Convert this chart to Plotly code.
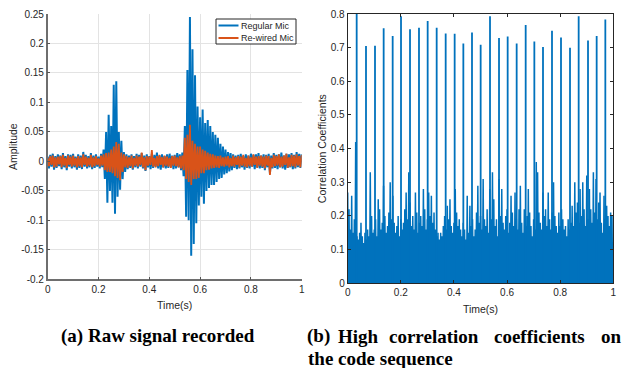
import plotly.graph_objects as go

# ---------------- data ----------------
# (a) raw signal, sampled every 0.005 s from 0 to 1 s
sample_step = 0.005
series_names = ["Regular Mic", "Re-wired Mic"]
regular_mic = [
    0.008, -0.012, 0.011, -0.009, 0.013, -0.014, 0.009, -0.011, 0.012, -0.008,
    0.010, -0.013, 0.014, -0.010, 0.009, -0.015, 0.012, -0.009, 0.011, -0.012,
    0.013, -0.010, 0.008, -0.014, 0.012, -0.011, 0.010, -0.013, 0.016, -0.009,
    0.011, -0.012, 0.009, -0.010, 0.014, -0.013, 0.010, -0.011, 0.012, -0.009,
    0.008, -0.012, 0.013, -0.010, 0.020, -0.030, 0.050, -0.070, 0.079, -0.050,
    0.060, -0.070, 0.130, -0.089, 0.136, -0.060, 0.050, -0.048, 0.035, -0.030,
    0.016, -0.018, 0.012, -0.013, 0.010, -0.011, 0.012, -0.014, 0.009, -0.010,
    0.013, -0.012, 0.011, -0.009, 0.014, -0.012, 0.010, -0.016, 0.012, -0.010,
    0.009, -0.013, 0.013, -0.011, 0.011, -0.009, 0.015, -0.012, 0.010, -0.014,
    0.012, -0.010, 0.009, -0.012, 0.012, -0.011, 0.013, -0.009, 0.010, -0.013,
    0.011, -0.012, 0.014, -0.010, 0.012, -0.015, 0.015, -0.025, 0.060, -0.094,
    0.155, -0.100, 0.245, -0.160, 0.190, -0.140, 0.146, -0.105, 0.093, -0.075,
    0.075, -0.060, 0.088, -0.072, 0.065, -0.050, 0.070, -0.045, 0.060, -0.040,
    0.050, -0.040, 0.045, -0.035, 0.040, -0.030, 0.030, -0.028, 0.025, -0.022,
    0.020, -0.020, 0.016, -0.017, 0.014, -0.015, 0.012, -0.011, 0.010, -0.013,
    0.011, -0.012, 0.013, -0.010, 0.009, -0.014, 0.012, -0.011, 0.010, -0.012,
    0.013, -0.009, 0.011, -0.013, 0.012, -0.010, 0.014, -0.012, 0.010, -0.011,
    0.012, -0.015, 0.011, -0.010, 0.013, -0.021, 0.010, -0.012, 0.014, -0.011,
    0.011, -0.013, 0.012, -0.010, 0.015, -0.012, 0.010, -0.014, 0.013, -0.011,
    0.012, -0.010, 0.014, -0.013, 0.011, -0.012, 0.016, -0.010, 0.013, -0.011,
    0.012,
]
rewired_mic = [
    0.006, -0.008, 0.009, -0.006, 0.010, -0.010, 0.007, -0.009, 0.008, -0.005,
    0.009, -0.010, 0.011, -0.007, 0.006, -0.011, 0.010, -0.006, 0.008, -0.009,
    0.010, -0.007, 0.006, -0.010, 0.009, -0.008, 0.007, -0.010, 0.012, -0.006,
    0.008, -0.009, 0.006, -0.007, 0.011, -0.010, 0.007, -0.008, 0.009, -0.006,
    0.005, -0.009, 0.010, -0.007, 0.012, -0.015, 0.014, -0.018, 0.015, -0.018,
    0.020, -0.020, 0.025, -0.025, 0.033, -0.028, 0.030, -0.032, 0.015, -0.018,
    0.012, -0.010, 0.009, -0.011, 0.007, -0.008, 0.010, -0.012, 0.006, -0.007,
    0.010, -0.009, 0.008, -0.006, 0.015, -0.010, 0.007, -0.015, 0.009, -0.007,
    0.008, -0.006, 0.019, -0.009, 0.006, -0.010, 0.009, -0.008, 0.011, -0.006,
    0.007, -0.010, 0.010, -0.007, 0.008, -0.009, 0.006, -0.011, 0.009, -0.007,
    0.010, -0.008, 0.007, -0.010, 0.009, -0.012, 0.010, -0.015, 0.040, -0.030,
    0.045, -0.035, 0.062, -0.040, 0.035, -0.030, 0.030, -0.030, 0.025, -0.028,
    0.025, -0.020, 0.020, -0.020, 0.018, -0.015, 0.015, -0.014, 0.013, -0.012,
    0.012, -0.011, 0.010, -0.010, 0.009, -0.011, 0.010, -0.008, 0.007, -0.009,
    0.008, -0.007, 0.009, -0.010, 0.006, -0.008, 0.010, -0.009, 0.007, -0.006,
    0.009, -0.010, 0.008, -0.007, 0.011, -0.009, 0.006, -0.010, 0.010, -0.008,
    0.007, -0.009, 0.012, -0.006, 0.008, -0.011, 0.009, -0.007, 0.010, -0.009,
    0.008, -0.012, 0.010, -0.007, 0.009, -0.023, 0.006, -0.010, 0.011, -0.008,
    0.009, -0.007, 0.012, -0.010, 0.008, -0.009, 0.010, -0.006, 0.013, -0.011,
    0.007, -0.009, 0.011, -0.008, 0.010, -0.010, 0.012, -0.007, 0.009, -0.010,
    0.011,
]

# (b) correlation coefficients: background spikes every 0.005 s ...
corr_noise = [
    0.27, 0.22, 0.16, 0.26, 0.15, 0.19, 0.42, 0.14, 0.13, 0.15,
    0.18, 0.14, 0.12, 0.15, 0.13, 0.16, 0.14, 0.33, 0.20, 0.15,
    0.16, 0.19, 0.14, 0.25, 0.22, 0.16, 0.18, 0.29, 0.20, 0.15,
    0.17, 0.21, 0.30, 0.19, 0.26, 0.18, 0.15, 0.17, 0.20, 0.14,
    0.19, 0.16, 0.18, 0.22, 0.27, 0.19, 0.33, 0.24, 0.17, 0.20,
    0.16, 0.27, 0.21, 0.15, 0.18, 0.20, 0.17, 0.28, 0.22, 0.16,
    0.19, 0.27, 0.20, 0.26, 0.18, 0.21, 0.16, 0.14, 0.15, 0.13,
    0.15, 0.14, 0.17, 0.20, 0.16, 0.23, 0.19, 0.25, 0.17, 0.15,
    0.18, 0.28, 0.21, 0.17, 0.19, 0.16, 0.14, 0.18, 0.16, 0.13,
    0.26, 0.15, 0.23, 0.17, 0.19, 0.14, 0.16, 0.21, 0.29, 0.18,
    0.20, 0.16, 0.31, 0.19, 0.17, 0.22, 0.15, 0.28, 0.19, 0.33,
    0.25, 0.17, 0.19, 0.14, 0.31, 0.20, 0.28, 0.18, 0.16, 0.20,
    0.22, 0.15, 0.18, 0.26, 0.21, 0.17, 0.27, 0.19, 0.16, 0.22,
    0.29, 0.18, 0.15, 0.22, 0.17, 0.20, 0.28, 0.21, 0.17, 0.14,
    0.19, 0.16, 0.36, 0.33, 0.21, 0.18, 0.16, 0.27, 0.20, 0.22,
    0.17, 0.27, 0.19, 0.16, 0.21, 0.30, 0.20, 0.17, 0.15, 0.21,
    0.17, 0.22, 0.19, 0.16, 0.17, 0.14, 0.19, 0.16, 0.18, 0.23,
    0.17, 0.30, 0.21, 0.24, 0.18, 0.28, 0.20, 0.30, 0.22, 0.17,
    0.32, 0.19, 0.28, 0.22, 0.18, 0.33, 0.21, 0.31, 0.19, 0.24,
    0.27, 0.18, 0.15, 0.26, 0.19, 0.23, 0.20, 0.17, 0.21, 0.20,
]
# ... and the high peaks where the code sequence matches
peak_times = [
    0.0338, 0.0689, 0.1028, 0.1354, 0.1693, 0.2007, 0.2346, 0.2684, 0.3011, 0.3350,
    0.3689, 0.4027, 0.4354, 0.4680, 0.5006, 0.5358, 0.5697, 0.6023, 0.6362, 0.6701,
    0.7027, 0.7353, 0.7692, 0.8031, 0.8370, 0.8696, 0.9048, 0.9374, 0.9700,
]
peak_values = [
    0.805, 0.705, 0.706, 0.758, 0.735, 0.793, 0.755, 0.759, 0.779, 0.759,
    0.742, 0.741, 0.712, 0.745, 0.709, 0.793, 0.729, 0.733, 0.712, 0.767,
    0.718, 0.702, 0.750, 0.730, 0.700, 0.793, 0.721, 0.735, 0.784,
]

left_yticks = [0.25, 0.2, 0.15, 0.1, 0.05, 0, -0.05, -0.1, -0.15, -0.2]
left_yticktext = ["0.25", "0.2", "0.15", "0.1", "0.05", "0", "-0.05", "-0.1", "-0.15", "-0.2"]
right_yticks = [0, 0.1, 0.2, 0.3, 0.4, 0.5, 0.6, 0.7, 0.8]
right_yticktext = ["0", "0.1", "0.2", "0.3", "0.4", "0.5", "0.6", "0.7", "0.8"]
xticks = [0, 0.2, 0.4, 0.6, 0.8, 1]
xticktext = ["0", "0.2", "0.4", "0.6", "0.8", "1"]

# ---------------- build ----------------
BLUE = "#0072BD"
ORANGE = "#D95319"
TXT = "#262626"
SANS = "Liberation Sans, Arial, sans-serif"
SERIF = "Liberation Serif, Times New Roman, serif"
series_colors = [BLUE, ORANGE]

W, H = 623, 368

def px(x):
    return x / W

def py(y):
    return 1 - y / H

raw_t = [round(i * sample_step, 4) for i in range(len(regular_mic))]

# correlation trace: each sample spike drops back to zero half a step later
corr_t, corr_v = [], []
for i, v in enumerate(corr_noise):
    t = i * sample_step
    corr_t += [t, t + sample_step / 2]
    corr_v += [v, 0.0]

pk_x, pk_y = [], []
for t, v in zip(peak_times, peak_values):
    pk_x += [t, t, None]
    pk_y += [0.0, v, None]

fig = go.Figure()
fig.add_trace(go.Scatter(x=raw_t, y=regular_mic, mode="lines", name=series_names[0],
                         line=dict(color=BLUE, width=2.0), xaxis="x", yaxis="y"))
fig.add_trace(go.Scatter(x=raw_t, y=rewired_mic, mode="lines", name=series_names[1],
                         line=dict(color=ORANGE, width=1.8), xaxis="x", yaxis="y"))
fig.add_trace(go.Scatter(x=corr_t, y=corr_v, mode="lines", showlegend=False,
                         line=dict(color=BLUE, width=1.5), xaxis="x2", yaxis="y2"))
fig.add_trace(go.Scatter(x=pk_x, y=pk_y, mode="lines", showlegend=False,
                         line=dict(color=BLUE, width=1.8), xaxis="x2", yaxis="y2"))

tickfont = dict(family=SANS, size=10, color=TXT)
titlefont = dict(family=SANS, size=10.5, color=TXT)

fig.update_layout(
    width=W, height=H,
    margin=dict(l=0, r=0, t=0, b=0),
    paper_bgcolor="white", plot_bgcolor="white",
    showlegend=False,
    xaxis=dict(domain=[px(47.7), px(301.7)], range=[0, 1],
               tickvals=xticks, ticktext=xticktext, tickfont=tickfont,
               ticks="inside", ticklen=3, tickcolor="#555555",
               showline=True, linecolor="#6e6e6e", linewidth=1.5, mirror=False,
               showgrid=True, gridcolor="#e3e3e3", gridwidth=1, zeroline=False,
               title=dict(text="Time(s)", font=titlefont, standoff=8),
               anchor="y", automargin=False),
    yaxis=dict(domain=[py(279.3), py(14)], range=[-0.2, 0.25],
               tickvals=left_yticks, ticktext=left_yticktext, tickfont=tickfont,
               ticks="inside", ticklen=3, tickcolor="#555555",
               showline=True, linecolor="#6e6e6e", linewidth=1.5, mirror=False,
               showgrid=True, gridcolor="#e3e3e3", gridwidth=1, zeroline=False,
               title=dict(text="Amplitude", font=titlefont, standoff=1),
               anchor="x", automargin=False),
    xaxis2=dict(domain=[px(347.7), px(613.3)], range=[0, 1],
                tickvals=xticks, ticktext=xticktext, tickfont=tickfont,
                ticks="inside", ticklen=3, tickcolor=TXT,
                showline=True, linecolor=TXT, linewidth=1, mirror="ticks",
                showgrid=False, zeroline=False,
                title=dict(text="Time(s)", font=titlefont, standoff=8),
                anchor="y2", automargin=False),
    yaxis2=dict(domain=[py(283.3), py(14)], range=[0, 0.8],
                tickvals=right_yticks, ticktext=right_yticktext, tickfont=tickfont,
                ticks="inside", ticklen=3, tickcolor=TXT,
                showline=True, linecolor=TXT, linewidth=1, mirror="ticks",
                showgrid=False, zeroline=False,
                title=dict(text="Correlation Coefficients", font=titlefont, standoff=2),
                anchor="x2", automargin=False),
)

# legend box of panel (a), MATLAB style (compact)
fig.add_shape(type="rect", xref="paper", yref="paper",
              x0=px(216), x1=px(296), y0=py(44), y1=py(19),
              line=dict(color=TXT, width=1), fillcolor="white", layer="above")
for k, (name, col) in enumerate(zip(series_names, series_colors)):
    yy = 25.5 + 12.5 * k
    fig.add_shape(type="line", xref="paper", yref="paper",
                  x0=px(218.5), x1=px(238.5), y0=py(yy), y1=py(yy),
                  line=dict(color=col, width=2), layer="above")
    fig.add_annotation(text=name, x=px(239.5), y=py(yy), xref="paper", yref="paper",
                       xanchor="left", yanchor="middle", showarrow=False,
                       font=dict(family=SANS, size=9, color=TXT), borderpad=0)

capfont = dict(family=SERIF, size=19, color="black")
captions = [
    ("<b>(a) Raw signal recorded</b>", 158, 336, "center"),
    ("<b>(b)</b>", 318.5, 336, "center"),
    ("<b>High</b>", 358.5, 336, "center"),
    ("<b>correlation</b>", 434, 336, "center"),
    ("<b>coefficients</b>", 539, 336, "center"),
    ("<b>on</b>", 611, 336, "center"),
    ("<b>the code sequence</b>", 305.7, 358, "left"),
]
for text, x, y, xa in captions:
    fig.add_annotation(text=text, x=px(x), y=py(y), xref="paper", yref="paper",
                       xanchor=xa, yanchor="middle", showarrow=False, font=capfont)

fig.write_html("out.html", config={"displayModeBar": False},
               post_script="document.body.style.margin='0px';document.body.style.overflow='hidden';")
